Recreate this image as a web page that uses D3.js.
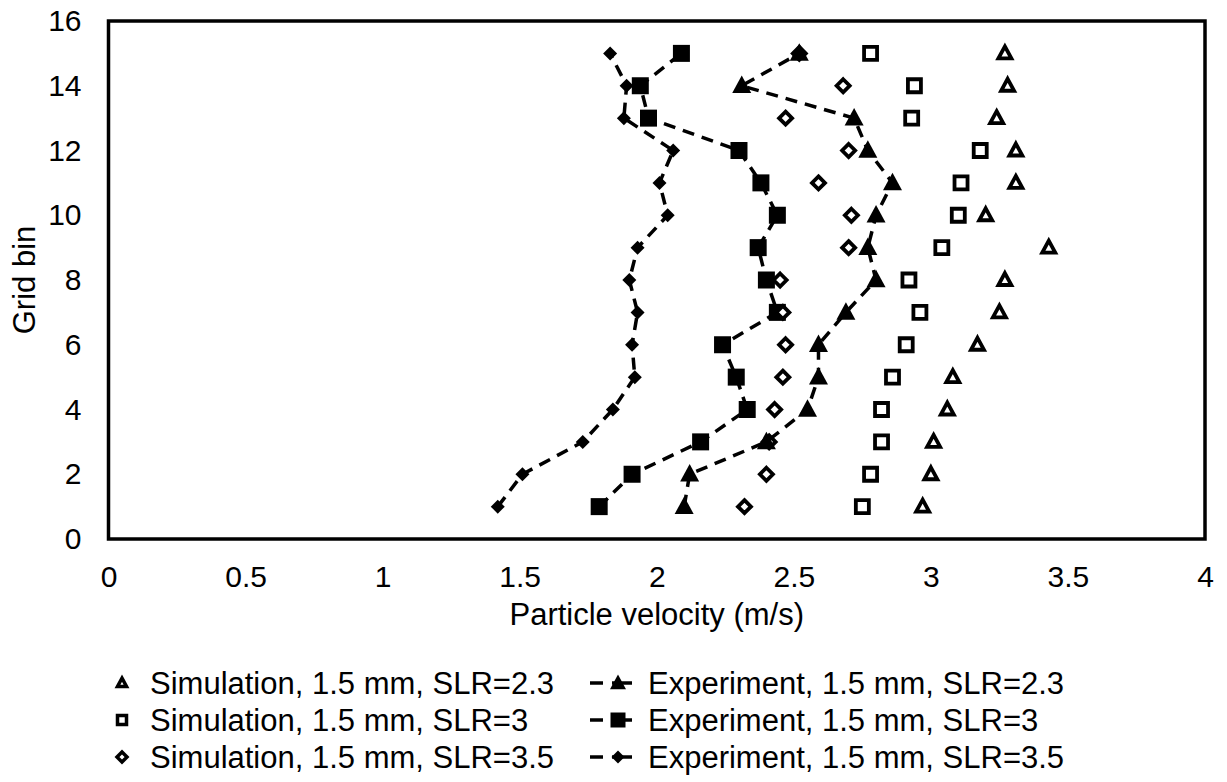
<!DOCTYPE html>
<html><head><meta charset="utf-8">
<script src="https://cdn.jsdelivr.net/npm/d3@7"></script>
<style>
body{margin:0;background:#fff;}
text{font-family:"Liberation Sans",Arial,sans-serif;fill:#000;}
</style></head>
<body><svg id="chart" width="1227" height="782"></svg>
<script>
// Grid bins (y values)
const gridBins = [1,2,3,4,5,6,7,8,9,10,11,12,13,14,15];
// Particle velocity (m/s), one value per grid bin 1..15
const simSLR23 = [2.97,3.00,3.01,3.06,3.08,3.17,3.25,3.27,3.43,3.20,3.31,3.31,3.24,3.28,3.27];
const simSLR3  = [2.75,2.78,2.82,2.82,2.86,2.91,2.96,2.92,3.04,3.10,3.11,3.18,2.93,2.94,2.78];
const simSLR35 = [2.32,2.40,2.41,2.43,2.46,2.47,2.46,2.45,2.70,2.71,2.59,2.70,2.47,2.68,2.52];
const expSLR23 = [2.10,2.12,2.40,2.55,2.59,2.59,2.69,2.80,2.77,2.80,2.86,2.77,2.72,2.31,2.52];
const expSLR3  = [1.79,1.91,2.16,2.33,2.29,2.24,2.44,2.40,2.37,2.44,2.38,2.30,1.97,1.94,2.09];
const expSLR35 = [1.42,1.51,1.73,1.84,1.92,1.91,1.93,1.90,1.93,2.04,2.01,2.06,1.88,1.89,1.83];
// Tick labels
const xTicks = [0,0.5,1,1.5,2,2.5,3,3.5,4];
const yTicks = [0,2,4,6,8,10,12,14,16];
const legendLabels = [
  "Simulation, 1.5 mm, SLR=2.3","Experiment, 1.5 mm, SLR=2.3",
  "Simulation, 1.5 mm, SLR=3","Experiment, 1.5 mm, SLR=3",
  "Simulation, 1.5 mm, SLR=3.5","Experiment, 1.5 mm, SLR=3.5"];

const svg = d3.select("#chart");
const L=108.5, R=1205, T=21, B=539;
const x = d3.scaleLinear().domain([0,4]).range([L,R]);
const y = d3.scaleLinear().domain([0,16]).range([B,T]);

function shapePath(shape, w){
  const h=w/2;
  if(shape==="tri"){ const th=w*0.92; return `M0,${-th*0.58}L${h},${th*0.42}L${-h},${th*0.42}Z`; }
  if(shape==="sq") return `M${-h},${-h}H${h}V${h}H${-h}Z`;
  return `M0,${-h}L${h},0L0,${h}L${-h},0Z`;
}

const series = [
  {name:legendLabels[0], data:simSLR23, shape:"tri", open:true, w:13},
  {name:legendLabels[2], data:simSLR3, shape:"sq", open:true, w:13},
  {name:legendLabels[3], data:expSLR3, shape:"sq", open:false, w:17, line:true},
  {name:legendLabels[5], data:expSLR35, shape:"dia", open:false, w:14, line:true},
  {name:legendLabels[4], data:simSLR35, shape:"dia", open:true, w:13},
  {name:legendLabels[1], data:expSLR23, shape:"tri", open:false, w:19, line:true},
];

// frame
svg.append("rect").attr("x",L).attr("y",T).attr("width",R-L).attr("height",B-T)
  .attr("fill","none").attr("stroke","#000").attr("stroke-width",3.5);

// axes labels (no tick marks)
const xAxis = d3.axisBottom(x).tickValues(xTicks).tickSize(0).tickPadding(30).tickFormat(d3.format("~g"));
const gx = svg.append("g").attr("transform",`translate(0,${B})`).call(xAxis);
gx.select(".domain").remove();
gx.selectAll("text").attr("font-size",30).attr("dy","0.71em").attr("y",27);
const yAxis = d3.axisLeft(y).tickValues(yTicks).tickSize(0).tickPadding(27);
const gy = svg.append("g").attr("transform",`translate(${L},0)`).call(yAxis);
gy.select(".domain").remove();
gy.selectAll("text").attr("font-size",30);
svg.selectAll(".tick text").attr("font-family","Liberation Sans, Arial, sans-serif").attr("fill","#000");

svg.append("text").attr("x",(L+R)/2).attr("y",625).attr("text-anchor","middle")
  .attr("font-size",31).text("Particle velocity (m/s)");
svg.append("text").attr("transform",`translate(35,${(T+B)/2}) rotate(-90)`).attr("text-anchor","middle")
  .attr("font-size",31).text("Grid bin");

const line = d3.line().x(d=>x(d[0])).y(d=>y(d[1]));
series.forEach(s=>{
  const pts = s.data.map((v,i)=>[v,gridBins[i]]);
  const g = svg.append("g");
  if(s.line){
    g.append("path").attr("d",line(pts)).attr("fill","none").attr("stroke","#000")
      .attr("stroke-width",3.5).attr("stroke-dasharray","12,8");
  }
  g.selectAll("path.m").data(pts).join("path").attr("class","m")
    .attr("transform",d=>`translate(${x(d[0])},${y(d[1])})`)
    .attr("d",shapePath(s.shape,s.w))
    .attr("fill",s.open?"#fff":"#000").attr("stroke","#000")
    .attr("stroke-width",s.open?3.8:0).attr("stroke-linejoin","miter");
});

// legend
const legRows=[683,720,757];
const legItems = [
  {label:legendLabels[0], shape:"tri", open:true, col:0,row:0},
  {label:legendLabels[2], shape:"sq", open:true, col:0,row:1},
  {label:legendLabels[4], shape:"dia", open:true, col:0,row:2},
  {label:legendLabels[1], shape:"tri", open:false, col:1,row:0},
  {label:legendLabels[3], shape:"sq", open:false, col:1,row:1},
  {label:legendLabels[5], shape:"dia", open:false, col:1,row:2},
];
const lg = svg.append("g");
legItems.forEach(it=>{
  const cy = legRows[it.row];
  if(it.col===0){
    lg.append("path").attr("transform",`translate(122,${cy})`)
      .attr("d",shapePath(it.shape, it.shape==="dia"?10:9))
      .attr("fill","#fff").attr("stroke","#000").attr("stroke-width",3.5);
    lg.append("text").attr("x",150).attr("y",cy).attr("dy","0.36em").attr("font-size",31).text(it.label);
  } else {
    lg.append("line").attr("x1",590).attr("x2",603).attr("y1",cy).attr("y2",cy)
      .attr("stroke","#000").attr("stroke-width",3.5);
    lg.append("line").attr("x1",612).attr("x2",632).attr("y1",cy).attr("y2",cy)
      .attr("stroke","#000").attr("stroke-width",3.5);
    lg.append("path").attr("transform",`translate(618,${cy})`)
      .attr("d",shapePath(it.shape, it.shape==="tri"?16:(it.shape==="sq"?15:13))).attr("fill","#000");
    lg.append("text").attr("x",648).attr("y",cy).attr("dy","0.36em").attr("font-size",31).text(it.label);
  }
});
</script></body></html>
